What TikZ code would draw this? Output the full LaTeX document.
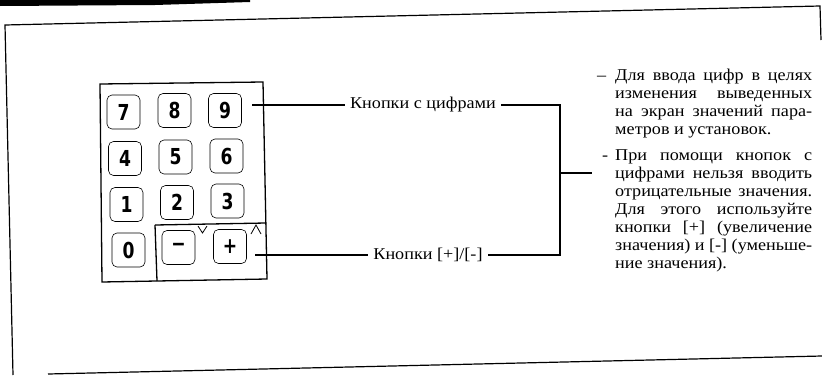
\documentclass[tikz,border=0pt]{standalone}
\usepackage{fontspec}
\setmainfont[FakeStretch=1.1]{Liberation Serif}
\newfontfamily\digfont[FakeStretch=0.78]{DejaVu Sans}
\begin{document}
\begin{tikzpicture}[x=1pt,y=-1pt,
  frameline/.style={line width=1.2pt},
  padline/.style={line width=1.3pt},
  conn/.style={line width=1.1pt},
  key/.style={draw, line width=0.6pt, rounded corners=5pt, minimum width=33pt, minimum height=34pt, inner sep=0pt, font=\digfont\bfseries\fontsize{22}{22}\selectfont},
  lbl/.style={inner xsep=5pt, inner ysep=2pt, font=\fontsize{16.5}{18}\selectfont}
]
\useasboundingbox (0,0) rectangle (822,375);
% top-left black bar
\fill (0,0) -- (0,6) -- (155,5) -- (250,2) -- (250,0) -- cycle;
% page frame (scanned, slightly tilted)
\draw[frameline] (13,375) -- (5,25) -- (820,6) -- (821,40);
\draw[frameline] (48,374) -- (822,356);
% keypad body
\draw[padline] (100,84) -- (263,82) -- (267,279) -- (102,282) -- cycle;
\draw[padline] (155,225) -- (266,223);
\draw[padline] (155,225) -- (157,281);
% small marks
\draw[line width=0.8pt] (198,226) -- (202.5,233) -- (207,226);
\draw[line width=0.8pt] (251,234) -- (256,225) -- (261,234);
% keys
\node[key] (k7) at (123.5,112) {7};
\node[key] (k8) at (174.5,110.5) {8};
\node[key] (k9) at (225,110.5) {9};
\node[key] (k4) at (125,158.5) {4};
\node[key] (k5) at (175.5,157) {5};
\node[key] (k6) at (226.5,156) {6};
\node[key] (k1) at (126.5,204.5) {1};
\node[key] (k2) at (177,202.5) {2};
\node[key] (k3) at (227.5,201) {3};
\node[key] (k0) at (128.5,250) {0};
\node[key] (kminus) at (178.5,247.5) {−};
\node[key] (kplus) at (230,246.5) {+};
% labels
\node[lbl] (lab1) at (423,105) {Кнопки с цифрами};
\node[lbl] (lab2) at (428,255) {Кнопки [+]/[-]};
\coordinate (c1) at (252,105);
\coordinate (c2) at (255,255);
\coordinate (br1) at (560,105);
\coordinate (br2) at (560,255);
\coordinate (brm) at (560,173);
\coordinate (stub) at (592,173);
\draw[conn] (c1) -- (lab1.west);
\draw[conn] (c2) -- (lab2.west);
\draw[conn] (lab1.east) -- (br1) -- (br2) -- (lab2.east);
\draw[conn] (brm) -- (stub);
% description text
\node[anchor=north west, inner sep=0pt, text width=215pt, align=justify,
      font=\fontsize{16.5}{18}\selectfont] (desc) at (597,68.5) {%
\tolerance=10000\parskip=8pt\parindent=0pt
\hangindent=18pt\hangafter=1
\makebox[18pt][l]{–}Для ввода цифр в целях\linebreak
изменения выведенных\linebreak
на экран значений пара-\linebreak
метров и установок.\par
\hangindent=18pt\hangafter=1
\makebox[18pt][l]{\hspace{5pt}-}При помощи кнопок с\linebreak
цифрами нельзя вводить\linebreak
отрицательные значения.\linebreak
Для этого используйте\linebreak
кнопки [+] (увеличение\linebreak
значения) и [-] (уменьше-\linebreak
ние значения).\par};
\end{tikzpicture}
\end{document}
